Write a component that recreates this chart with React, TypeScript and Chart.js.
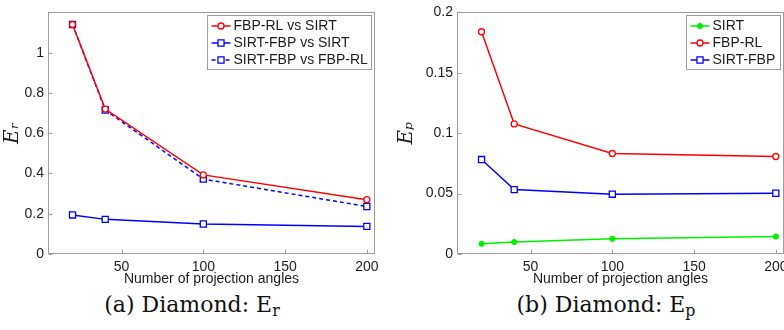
import React, { useEffect, useRef } from 'react';
import { Chart, registerables } from 'chart.js';
import { drawPoint } from 'chart.js/helpers';

Chart.register(...registerables);

// Number of projection angles used in each experiment
const angles = [20, 40, 100, 200];
const angleTicks = [50, 100, 150, 200];

// (a) Diamond: relative reconstruction error E_r
const erFbpRlVsSirt = [1.14, 0.72, 0.393, 0.27];
const erSirtFbpVsSirt = [0.194, 0.172, 0.149, 0.137];
const erSirtFbpVsFbpRl = [1.14, 0.715, 0.372, 0.236];
const erTicks = [0, 0.2, 0.4, 0.6, 0.8, 1];

// (b) Diamond: projection error E_p
const epSirt = [0.0085, 0.0099, 0.0127, 0.0144];
const epFbpRl = [0.184, 0.1077, 0.0832, 0.0807];
const epSirtFbp = [0.0782, 0.0533, 0.0495, 0.0503];
const epTicks = [0, 0.05, 0.1, 0.15, 0.2];

const RED = '#ff0000';
const BLUE = '#0000ff';
const GREEN = '#00f000';
const FRAME = '#9c9c9c';
const TEXT = '#1c1c1c';
const SANS = '"Liberation Sans", Arial, sans-serif';

// Box around the axes, inward tick marks and a boxed legend in the upper right corner
const axesFrame = {
  id: 'axesFrame',
  afterDraw(chart: any, _args: any, opts: any) {
    const { ctx, chartArea: a, scales } = chart;
    ctx.save();
    ctx.strokeStyle = FRAME;
    ctx.lineWidth = 1;
    ctx.setLineDash([]);
    const l = Math.round(a.left) + 0.5;
    const t = Math.round(a.top) + 0.5;
    const r = Math.round(a.right) - 0.5;
    const b = Math.round(a.bottom) - 0.5;
    ctx.strokeRect(l, t, r - l, b - t);

    ctx.beginPath();
    for (const tick of scales.x.ticks) {
      const px = Math.round(scales.x.getPixelForValue(tick.value)) + 0.5;
      ctx.moveTo(px, b);
      ctx.lineTo(px, b - 4);
    }
    for (const tick of scales.y.ticks) {
      const py = Math.round(scales.y.getPixelForValue(tick.value)) + 0.5;
      ctx.moveTo(l, py);
      ctx.lineTo(l + 4, py);
    }
    ctx.stroke();

    // legend
    const w = opts.legendWidth;
    const h = 54;
    const bx = Math.round(a.right - 4 - w) + 0.5;
    const by = Math.round(a.top + 3) + 0.5;
    ctx.fillStyle = '#ffffff';
    ctx.fillRect(bx, by, w, h);
    ctx.strokeStyle = FRAME;
    ctx.strokeRect(bx, by, w, h);

    chart.data.datasets.forEach((ds: any, i: number) => {
      const y = by + 10.5 + i * 17;
      ctx.strokeStyle = ds.borderColor;
      ctx.lineWidth = ds.borderWidth;
      ctx.setLineDash(ds.borderDash || []);
      ctx.beginPath();
      ctx.moveTo(bx + 4, y);
      ctx.lineTo(bx + 23, y);
      ctx.stroke();
      ctx.setLineDash([]);
      ctx.fillStyle = ds.pointBackgroundColor;
      ctx.strokeStyle = ds.pointBorderColor;
      ctx.lineWidth = ds.pointBorderWidth;
      drawPoint(ctx, { pointStyle: ds.pointStyle, radius: ds.pointRadius, borderWidth: ds.pointBorderWidth, rotation: 0 }, bx + 13.5, y);
      ctx.fillStyle = TEXT;
      ctx.font = `14px ${SANS}`;
      ctx.textBaseline = 'middle';
      ctx.textAlign = 'left';
      ctx.fillText(ds.label, bx + 26, y + 0.5);
    });
    ctx.restore();
  },
};

function series(label: string, data: number[], color: string, marker: string, radius: number, dash?: number[]) {
  return {
    label,
    data: angles.map((x, i) => ({ x, y: data[i] })),
    borderColor: color,
    borderWidth: 1.5,
    borderDash: dash || [],
    pointStyle: marker,
    pointRadius: radius,
    pointBorderWidth: marker === 'star' ? 2 : 1.3,
    pointBorderColor: color,
    pointBackgroundColor: marker === 'star' ? color : '#ffffff',
    tension: 0,
    fill: false,
  };
}

function makeConfig(p: {
  datasets: any[];
  yMax: number;
  yTicks: number[];
  yTitle: string;
  yWidth: number;
  padRight: number;
  legendWidth: number;
  titlePad: number;
}) {
  return {
    type: 'line',
    data: { datasets: p.datasets },
    plugins: [axesFrame],
    options: {
      animation: false,
      responsive: false,
      maintainAspectRatio: false,
      layout: { padding: { top: 9, right: p.padRight, left: 0, bottom: 0 } },
      plugins: {
        legend: { display: false },
        tooltip: { enabled: false },
        axesFrame: { legendWidth: p.legendWidth },
      },
      scales: {
        x: {
          type: 'linear',
          min: 5,
          max: 205,
          afterBuildTicks: (s: any) => {
            s.ticks = angleTicks.map((v) => ({ value: v }));
          },
          afterFit: (s: any) => {
            s.height = 36;
          },
          grid: { display: false, drawTicks: false },
          border: { display: false },
          ticks: {
            padding: 5,
            maxRotation: 0,
            autoSkip: false,
            color: TEXT,
            font: { family: SANS, size: 14 },
          },
          title: {
            display: true,
            text: 'Number of projection angles',
            color: TEXT,
            font: { family: SANS, size: 14 },
            padding: { top: 0, bottom: 2 },
          },
        },
        y: {
          type: 'linear',
          min: 0,
          max: p.yMax,
          afterBuildTicks: (s: any) => {
            s.ticks = p.yTicks.map((v) => ({ value: v }));
          },
          afterFit: (s: any) => {
            s.width = p.yWidth;
          },
          grid: { display: false, drawTicks: false },
          border: { display: false },
          ticks: {
            padding: 4,
            color: TEXT,
            font: { family: SANS, size: 14 },
            callback: (v: any) => String(Number(v)),
          },
          title: {
            display: true,
            text: p.yTitle,
            color: TEXT,
            font: { family: '"DejaVu Serif", serif', size: 20, style: 'italic' },
            padding: { top: p.titlePad, bottom: 0 },
          },
        },
      },
    },
  };
}

function LineChart(props: { config: any; width: number; height: number; left: number }) {
  const ref = useRef<HTMLCanvasElement | null>(null);
  useEffect(() => {
    if (!ref.current) return;
    const chart = new Chart(ref.current, props.config);
    return () => chart.destroy();
  }, []);
  return (
    <canvas
      ref={ref}
      width={props.width}
      height={props.height}
      style={{ position: 'absolute', left: props.left, top: 0, width: props.width, height: props.height }}
    />
  );
}

const captionStyle: React.CSSProperties = {
  position: 'absolute',
  top: 291,
  width: 384,
  textAlign: 'center',
  fontFamily: '"DejaVu Serif", serif',
  fontSize: 22,
  lineHeight: '28px',
  color: '#111',
  whiteSpace: 'nowrap',
};
const subStyle: React.CSSProperties = { fontSize: '72%', verticalAlign: '-0.25em' };

export default function App() {
  const left = makeConfig({
    datasets: [
      series('FBP-RL vs SIRT', erFbpRlVsSirt, RED, 'circle', 3),
      series('SIRT-FBP vs SIRT', erSirtFbpVsSirt, BLUE, 'rect', 4.3),
      series('SIRT-FBP vs FBP-RL', erSirtFbpVsFbpRl, BLUE, 'rect', 4.3, [4, 3]),
    ],
    yMax: 1.2,
    yTicks: erTicks,
    yTitle: 'Eᵣ',
    yWidth: 48,
    padRight: 17,
    legendWidth: 164,
    titlePad: 1,
  });
  const right = makeConfig({
    datasets: [
      series('SIRT', epSirt, GREEN, 'star', 3),
      series('FBP-RL', epFbpRl, RED, 'circle', 3),
      series('SIRT-FBP', epSirtFbp, BLUE, 'rect', 4.3),
    ],
    yMax: 0.2,
    yTicks: epTicks,
    yTitle: 'Eₚ',
    yWidth: 65,
    padRight: 28,
    legendWidth: 94,
    titlePad: 3,
  });

  return (
    <div style={{ position: 'fixed', left: 0, top: 0, width: 784, height: 330, overflow: 'hidden', background: '#fff' }}>
      <LineChart config={left} width={392} height={290} left={0} />
      <LineChart config={right} width={420} height={290} left={392} />
      <div style={{ ...captionStyle, left: 0 }}>
        (a) Diamond: E<span style={subStyle}>r</span>
      </div>
      <div style={{ ...captionStyle, left: 414 }}>
        (b) Diamond: E<span style={subStyle}>p</span>
      </div>
    </div>
  );
}
